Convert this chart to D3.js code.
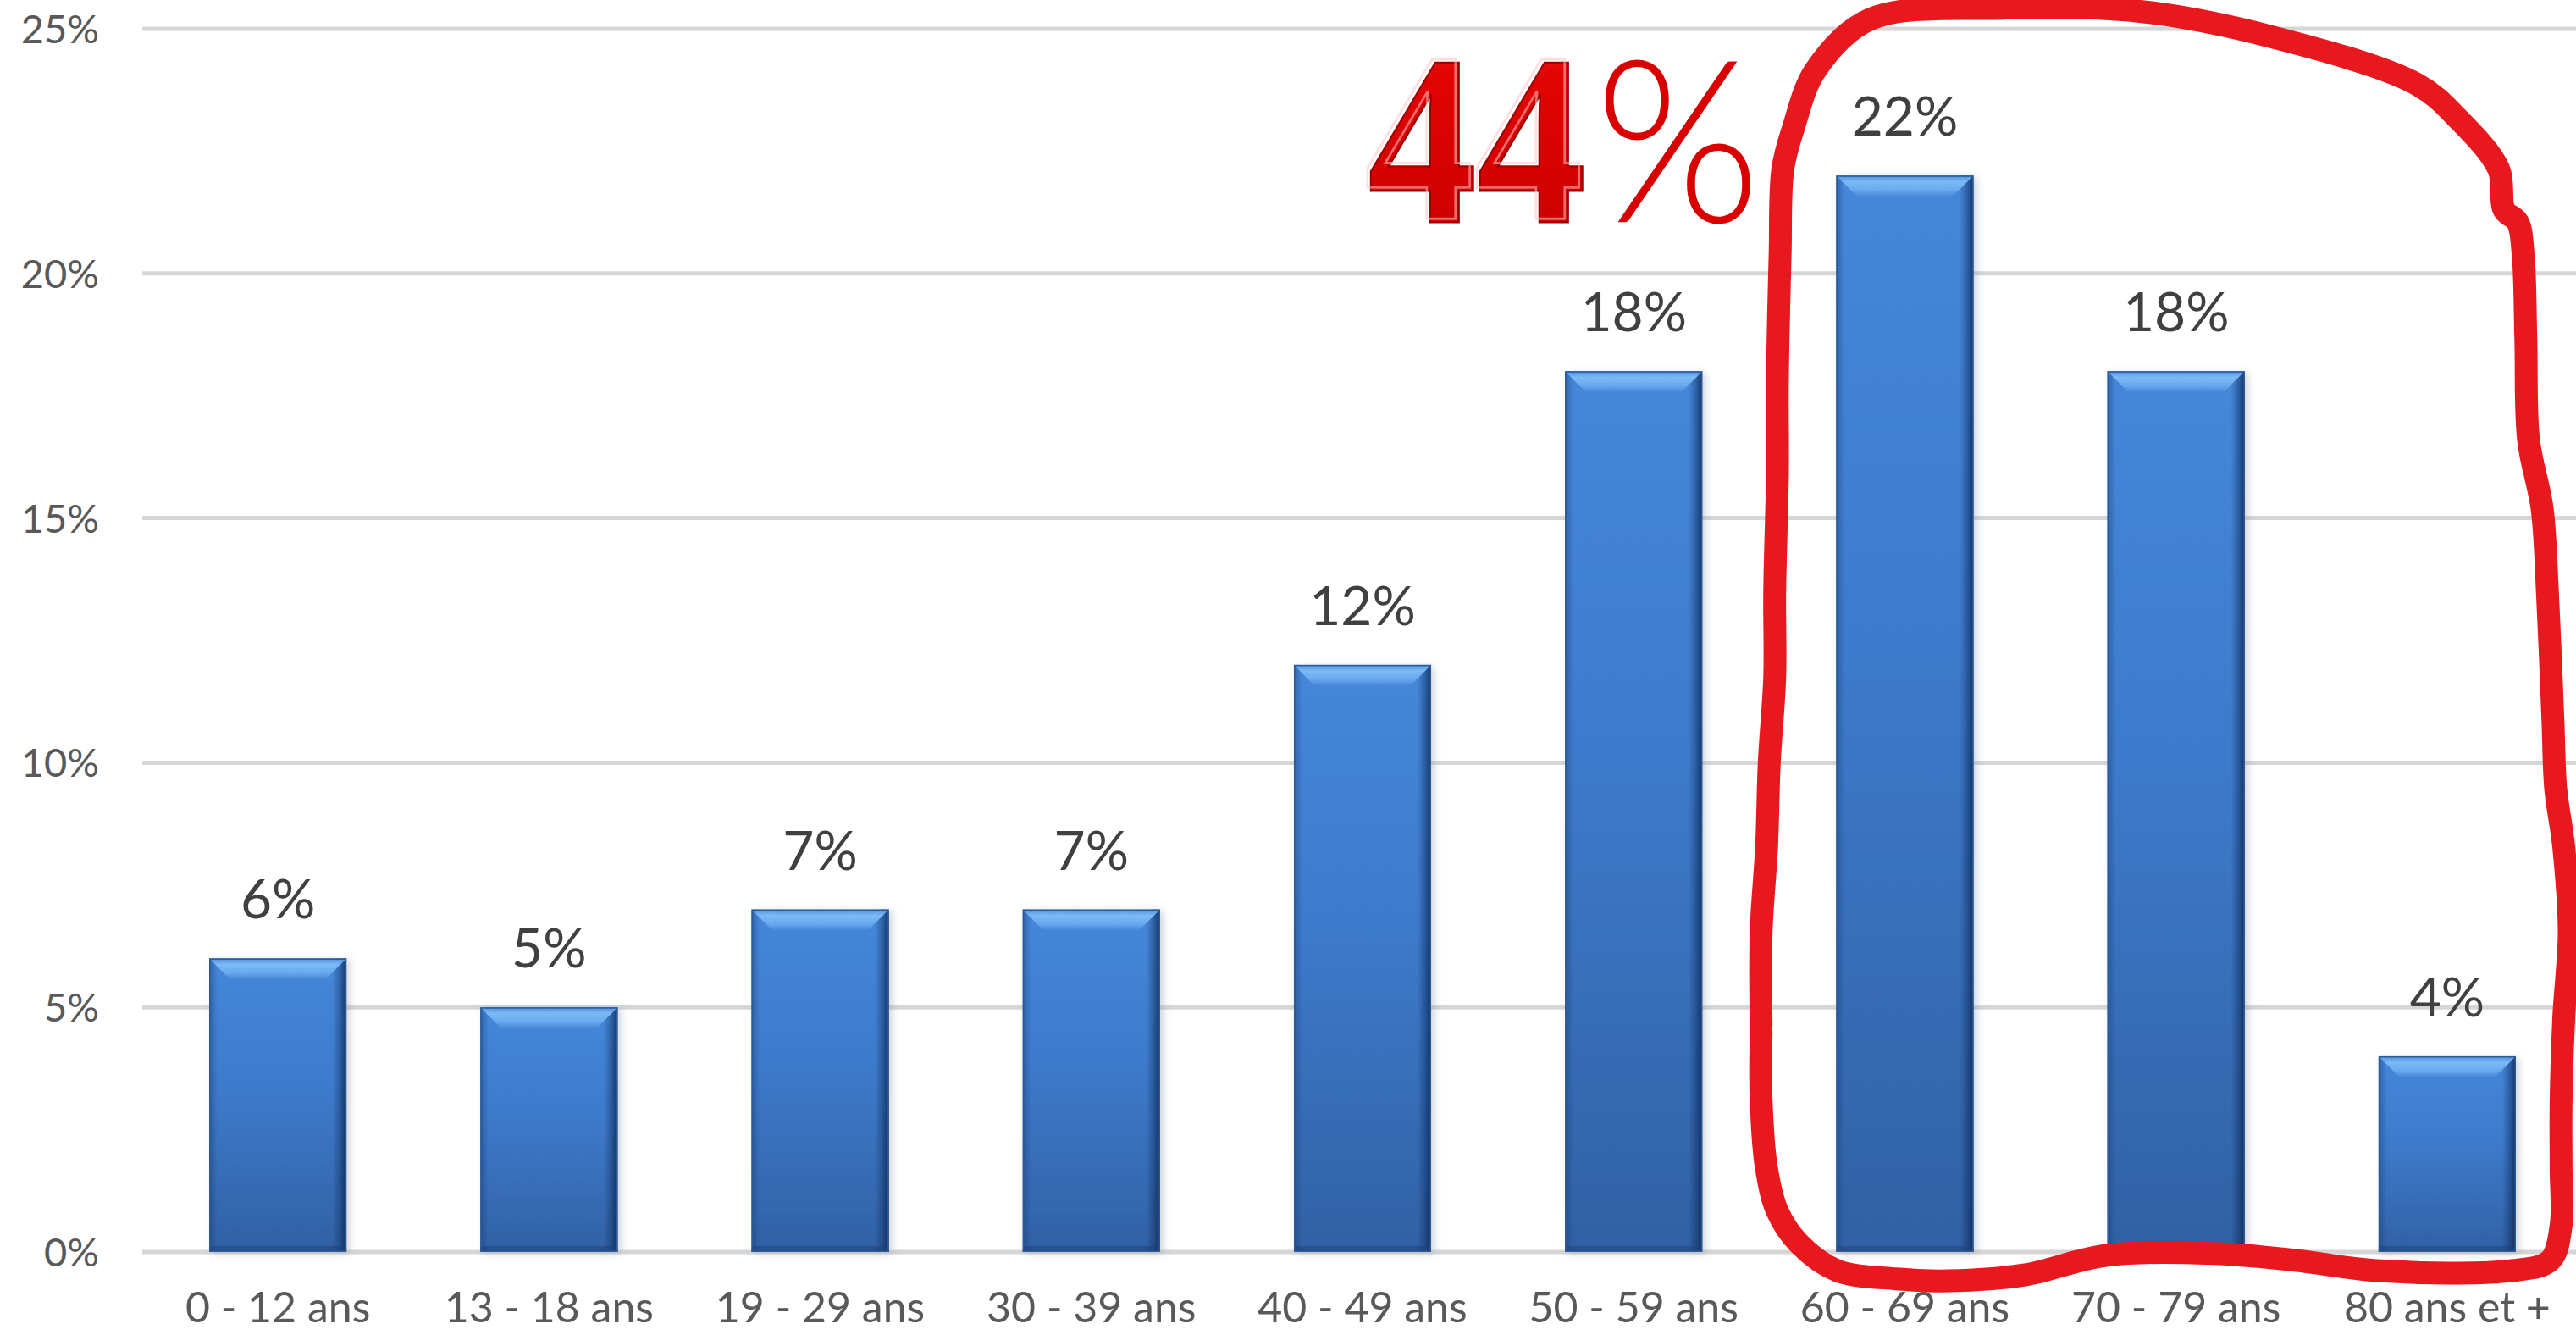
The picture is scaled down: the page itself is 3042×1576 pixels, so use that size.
<!DOCTYPE html>
<html>
<head>
<meta charset="utf-8">
<script src="https://cdn.jsdelivr.net/npm/d3@7/dist/d3.min.js"></script>
<style>
  html, body { margin: 0; padding: 0; background: #ffffff; }
  svg { display: block; }
</style>
</head>
<body>
<svg id="chart" width="3042" height="1576"></svg>
<script>
// ---------- data ----------
const categories = ["0 - 12 ans", "13 - 18 ans", "19 - 29 ans", "30 - 39 ans", "40 - 49 ans",
                    "50 - 59 ans", "60 - 69 ans", "70 - 79 ans", "80 ans et +"];
const values = [6, 5, 7, 7, 12, 18, 22, 18, 4];
const yTicks = [0, 5, 10, 15, 20, 25];
const yTickLabels = ["0%", "5%", "10%", "15%", "20%", "25%"];
const highlightText = "44";
const highlightUnit = "%";
// hand-drawn loop around the last three groups: [category position, value in %]
const loopPoints = [
  [5.47, 4.5], [5.47, 3.1], [5.49, 1.7], [5.53, 0.83], [5.61, 0.17], [5.75, -0.38],
  [5.97, -0.55], [6.16, -0.59], [6.44, -0.47], [6.74, -0.07], [7.14, -0.03], [7.44, -0.17],
  [7.74, -0.38], [8.24, -0.38], [8.38, -0.17], [8.42, 0.54], [8.42, 1.7], [8.42, 3.07],
  [8.43, 4.8], [8.45, 6.54], [8.43, 8.27], [8.40, 9.48], [8.39, 10.86], [8.37, 13.45],
  [8.35, 15.2], [8.30, 16.6], [8.29, 18.66], [8.28, 20.39], [8.26, 21.05], [8.21, 21.3],
  [8.19, 22.13], [8.04, 23.16], [7.89, 23.86], [7.35, 24.84], [6.86, 25.36], [6.36, 25.42],
  [5.87, 25.19], [5.67, 24.15], [5.59, 22.99], [5.55, 22.13], [5.54, 20.39], [5.53, 17.8],
  [5.53, 15.89], [5.52, 13.48], [5.52, 11.75], [5.50, 10.0], [5.49, 8.27], [5.47, 6.54], [5.47, 4.63]
];

// ---------- layout ----------
const svg = d3.select("#chart");
const plotLeft = 168, plotRight = 3050, plotTop = 34, plotBottom = 1478;

const x = d3.scaleBand().domain(categories).range([plotLeft, plotRight])
  .paddingInner(0.494).paddingOuter(0.247);
const y = d3.scaleLinear().domain([0, 25]).range([plotBottom, plotTop]);
const xPos = d3.scaleLinear().domain([0, categories.length - 1])
  .range([x(categories[0]) + x.bandwidth() / 2, x(categories[categories.length - 1]) + x.bandwidth() / 2]);

const defs = svg.append("defs");

const body = defs.append("linearGradient").attr("id", "barBody").attr("x1", 0).attr("y1", 0).attr("x2", 0).attr("y2", 1);
body.append("stop").attr("offset", "0").attr("stop-color", "#4587d9");
body.append("stop").attr("offset", "0.45").attr("stop-color", "#3d7acb");
body.append("stop").attr("offset", "1").attr("stop-color", "#3161a4");

const sides = defs.append("linearGradient").attr("id", "barSides").attr("x1", 0).attr("y1", 0).attr("x2", 1).attr("y2", 0);
sides.append("stop").attr("offset", "0").attr("stop-color", "#173a70").attr("stop-opacity", 0.45);
sides.append("stop").attr("offset", "0.06").attr("stop-color", "#173a70").attr("stop-opacity", 0.0);
sides.append("stop").attr("offset", "0.9").attr("stop-color", "#0d2a58").attr("stop-opacity", 0.0);
sides.append("stop").attr("offset", "0.96").attr("stop-color", "#0d2a58").attr("stop-opacity", 0.45);
sides.append("stop").attr("offset", "1").attr("stop-color", "#0b2248").attr("stop-opacity", 0.85);

const bevel = defs.append("linearGradient").attr("id", "barBevel").attr("x1", 0).attr("y1", 0).attr("x2", 0).attr("y2", 1);
bevel.append("stop").attr("offset", "0").attr("stop-color", "#4f8fdc");
bevel.append("stop").attr("offset", "0.3").attr("stop-color", "#7cbaf6");
bevel.append("stop").attr("offset", "0.7").attr("stop-color", "#69a9ee");
bevel.append("stop").attr("offset", "1").attr("stop-color", "#4b8ad9");

const shadow = defs.append("filter").attr("id", "barShadow").attr("x", "-10%").attr("y", "-5%").attr("width", "125%").attr("height", "110%");
shadow.append("feDropShadow").attr("dx", 4).attr("dy", 2).attr("stdDeviation", 4)
  .attr("flood-color", "#7a8aa0").attr("flood-opacity", 0.35);

const red = defs.append("linearGradient").attr("id", "redGloss").attr("x1", 0).attr("y1", 0).attr("x2", 0).attr("y2", 1);
red.append("stop").attr("offset", "0").attr("stop-color", "#ff3a3a");
red.append("stop").attr("offset", "0.25").attr("stop-color", "#e20404");
red.append("stop").attr("offset", "1").attr("stop-color", "#c80000");

// ---------- gridlines ----------
svg.append("g").selectAll("line").data(yTicks).join("line")
  .attr("x1", plotLeft).attr("x2", plotRight)
  .attr("y1", d => y(d)).attr("y2", d => y(d))
  .attr("stroke", "#d6d6d6").attr("stroke-width", 5);

// ---------- y axis labels ----------
svg.append("g").selectAll("text").data(yTicks).join("text")
  .attr("x", 117).attr("y", d => y(d))
  .attr("dy", "0.36em")
  .attr("text-anchor", "end")
  .attr("font-family", "Lato, 'Open Sans', sans-serif")
  .attr("font-size", 47).attr("fill", "#595959")
  .text((d, i) => yTickLabels[i]);

// ---------- bars ----------
const bev = 24;
const bars = svg.append("g").selectAll("g").data(values).join("g")
  .attr("filter", "url(#barShadow)");
bars.append("rect")
  .attr("x", (d, i) => x(categories[i])).attr("y", d => y(d))
  .attr("width", x.bandwidth()).attr("height", d => y(0) - y(d))
  .attr("fill", "url(#barBody)");
bars.append("rect")
  .attr("x", (d, i) => x(categories[i])).attr("y", d => y(d))
  .attr("width", x.bandwidth()).attr("height", d => y(0) - y(d))
  .attr("fill", "url(#barSides)");
bars.append("polygon")
  .attr("points", (d, i) => {
    const x0 = x(categories[i]), x1 = x0 + x.bandwidth(), t = y(d);
    return [[x0, t], [x1, t], [x1 - bev, t + bev], [x0 + bev, t + bev]].map(p => p.join(",")).join(" ");
  })
  .attr("fill", "url(#barBevel)");
bars.append("rect")
  .attr("x", (d, i) => x(categories[i])).attr("y", d => y(0) - 7)
  .attr("width", x.bandwidth()).attr("height", 7)
  .attr("fill", "#1d3f75").attr("opacity", 0.45);
bars.append("rect")
  .attr("x", (d, i) => x(categories[i]) + 0.75).attr("y", d => y(d) + 0.75)
  .attr("width", x.bandwidth() - 1.5).attr("height", d => y(0) - y(d) - 1.5)
  .attr("fill", "none").attr("stroke", "#2b5a98").attr("stroke-width", 1.5);

// ---------- data labels ----------
svg.append("g").selectAll("text").data(values).join("text")
  .attr("x", (d, i) => x(categories[i]) + x.bandwidth() / 2)
  .attr("y", d => y(d) - 47)
  .attr("text-anchor", "middle")
  .attr("font-family", "Lato, 'Open Sans', sans-serif")
  .attr("font-size", 64).attr("fill", "#404040")
  .text(d => d + "%");

// ---------- x axis labels ----------
svg.append("g").selectAll("text").data(categories).join("text")
  .attr("x", d => x(d) + x.bandwidth() / 2)
  .attr("y", 1561)
  .attr("text-anchor", "middle")
  .attr("font-family", "Lato, 'Open Sans', sans-serif")
  .attr("font-size", 50).attr("fill", "#595959")
  .text(d => d);

// ---------- 44% annotation ----------
const bigX = xPos(4.02), bigBase = y(21.05);
const bigFont = "'Liberation Serif', 'DejaVu Serif', serif";
const gloss = svg.append("g");
gloss.append("clipPath").attr("id", "bigClip").append("path");
gloss.append("text")
  .attr("x", bigX).attr("y", bigBase)
  .attr("font-family", bigFont)
  .attr("font-weight", "bold").attr("font-size", 286)
  .attr("textLength", 258).attr("lengthAdjust", "spacingAndGlyphs")
  .attr("fill", "url(#redGloss)").attr("stroke", "#a00000").attr("stroke-width", 2.5)
  .text(highlightText);
gloss.append("text")
  .attr("x", bigX - 4).attr("y", bigBase - 4)
  .attr("font-family", bigFont)
  .attr("font-weight", "bold").attr("font-size", 286)
  .attr("textLength", 258).attr("lengthAdjust", "spacingAndGlyphs")
  .attr("fill", "none").attr("stroke", "#ffc4c4").attr("stroke-opacity", 0.55).attr("stroke-width", 3)
  .text(highlightText);
svg.append("text")
  .attr("x", bigX + 268).attr("y", bigBase)
  .attr("font-family", "Lato, 'Open Sans', sans-serif")
  .attr("font-weight", 300).attr("font-size", 268)
  .attr("textLength", 196).attr("lengthAdjust", "spacingAndGlyphs")
  .attr("fill", "#d90000")
  .text(highlightUnit);

// ---------- hand-drawn loop ----------
const loopLine = d3.line().x(d => xPos(d[0])).y(d => y(d[1])).curve(d3.curveCatmullRom.alpha(0.5));
svg.append("path")
  .attr("d", loopLine(loopPoints))
  .attr("fill", "none").attr("stroke", "#e8181f").attr("stroke-width", 27)
  .attr("stroke-linecap", "round").attr("stroke-linejoin", "round");
</script>
</body>
</html>
